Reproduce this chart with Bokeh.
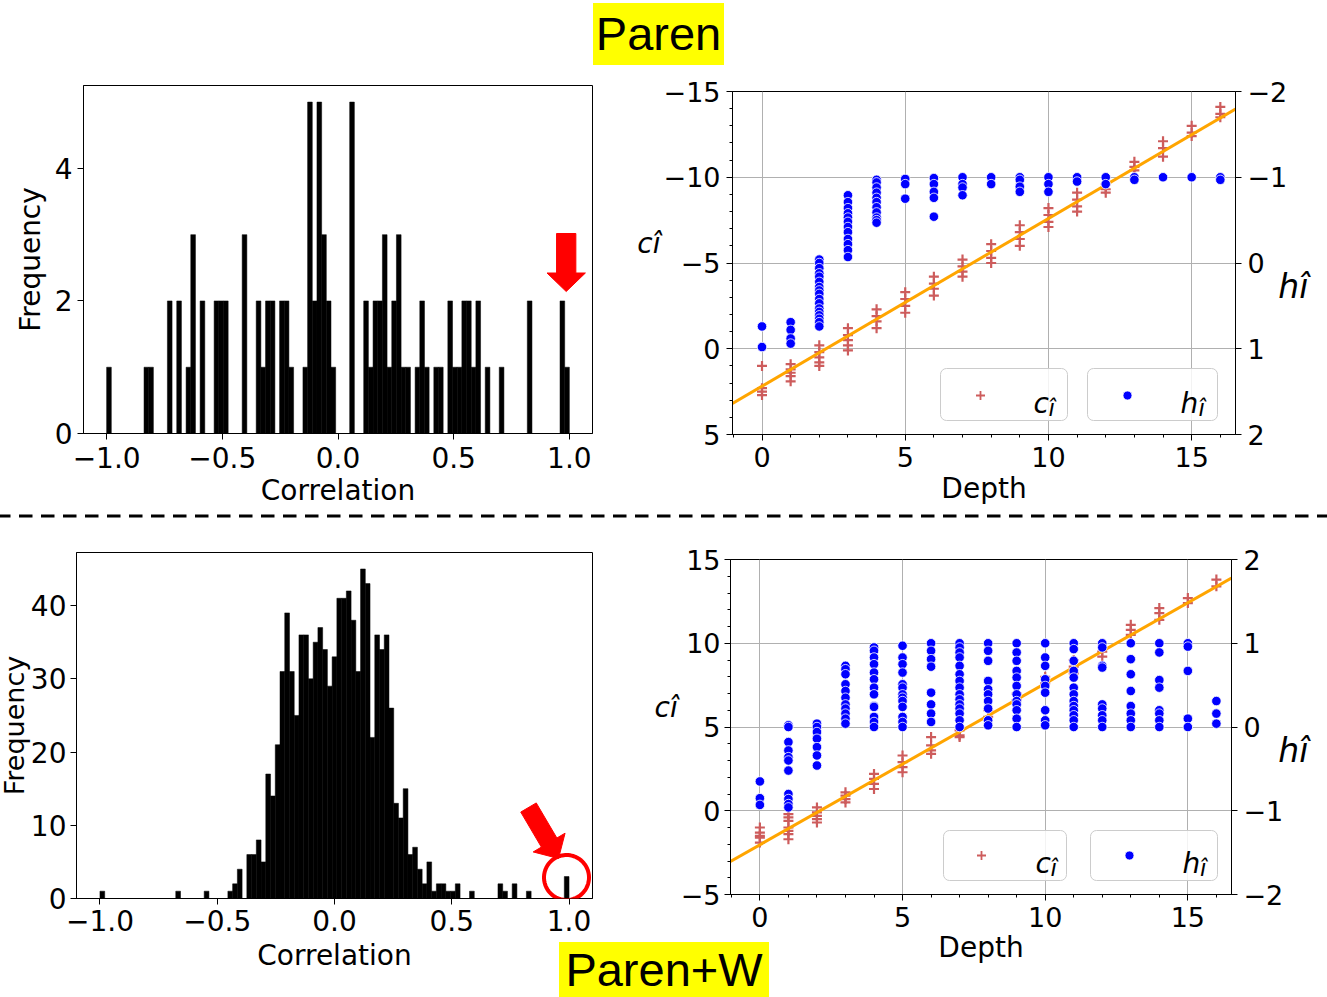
import math
import numpy as np
from bokeh.plotting import figure
from bokeh.models import (Range1d, LinearAxis, FixedTicker, Label, BoxAnnotation,
                          PolyAnnotation, Div, Spacer, CustomJSTickFormatter)
from bokeh.layouts import column, row
from bokeh.embed import file_html
from bokeh.resources import INLINE

# ---------------------------------------------------------------- data
n_bins = 99
bin_range = (-1.0, 1.0)
paren_counts = [1, 0, 0, 0, 0, 0, 0, 0, 1, 1,
                0, 0, 0, 2, 0, 2, 0, 1, 3, 0,
                2, 0, 0, 2, 2, 2, 0, 0, 0, 3,
                0, 0, 2, 1, 2, 2, 0, 2, 2, 1,
                0, 0, 1, 5, 2, 5, 3, 2, 1, 0,
                0, 0, 5, 0, 0, 2, 1, 2, 2, 3,
                1, 2, 3, 1, 1, 0, 1, 2, 1, 0,
                1, 1, 0, 2, 1, 1, 2, 2, 1, 2,
                0, 1, 0, 0, 1, 0, 0, 0, 0, 0,
                2, 0, 0, 0, 0, 0, 0, 2, 1]
parenw_counts = [1, 0, 0, 0, 0, 0, 0, 0, 0, 0,
                 0, 0, 0, 0, 0, 0, 1, 0, 0, 0,
                 0, 0, 1, 0, 0, 0, 0, 1, 2, 4,
                 0, 6, 6, 8, 5, 17, 14, 21, 31, 39,
                 31, 25, 36, 36, 30, 35, 37, 34, 29, 33,
                 41, 41, 42, 38, 31, 45, 43, 22, 36, 34,
                 36, 26, 13, 11, 15, 6, 7, 4, 2, 5,
                 1, 2, 2, 1, 1, 2, 0, 0, 1, 0,
                 0, 0, 0, 0, 2, 1, 0, 2, 0, 0,
                 1, 0, 0, 0, 0, 0, 0, 0, 3]

depths = list(range(17))
paren_c = [
    [1.0, 2.3, 2.5, 2.7],
    [0.9, 1.2, 1.4, 1.6, 1.9],
    [-0.2, 0.2, 0.5, 0.8, 1.0],
    [-1.2, -0.8, -0.5, -0.2, 0.1],
    [-2.3, -1.9, -1.6, -1.2],
    [-3.3, -2.9, -2.5, -2.1],
    [-4.2, -3.8, -3.5, -3.1],
    [-5.2, -4.8, -4.5, -4.2],
    [-6.1, -5.7, -5.3, -5.0],
    [-7.2, -6.8, -6.4, -6.0],
    [-8.2, -7.8, -7.4, -7.1],
    [-9.1, -8.7, -8.3, -8.0],
    [-9.6, -9.3, -9.1],
    [-10.9, -10.6, -10.4],
    [-12.1, -11.7, -11.2],
    [-13.0, -12.6, -12.4],
    [-14.1, -13.7, -13.5],
]
paren_h = [
    [0.74, 0.98],
    [0.69, 0.78, 0.88, 0.94],
    [-0.04, 0.0, 0.06, 0.12, 0.16, 0.22, 0.28, 0.32, 0.36, 0.42, 0.47, 0.53, 0.57, 0.61, 0.65, 0.69, 0.74],
    [-0.79, -0.71, -0.64, -0.58, -0.53, -0.48, -0.42, -0.36, -0.28, -0.22, -0.15, -0.07],
    [-0.97, -0.94, -0.88, -0.82, -0.76, -0.71, -0.65, -0.59, -0.53, -0.50, -0.47],
    [-0.98, -0.92, -0.75],
    [-0.99, -0.92, -0.83, -0.76, -0.54],
    [-1.0, -0.92, -0.88, -0.79],
    [-1.0, -0.92],
    [-1.0, -0.97, -0.89, -0.83],
    [-1.0, -0.92, -0.83],
    [-1.0, -0.95],
    [-1.0, -0.92],
    [-1.0, -0.97],
    [-1.0],
    [-1.0],
    [-1.0, -0.97],
]
parenw_c = [
    [-1.0, -1.3, -1.5, -1.6, -1.9],
    [-0.2, -0.4, -0.6, -1.0, -1.2, -1.4, -1.7],
    [0.2, -0.1, -0.3, -0.5, -0.7],
    [1.1, 0.9, 0.7, 0.5],
    [2.2, 1.9, 1.6, 1.3],
    [3.3, 2.9, 2.6, 2.3],
    [4.4, 3.9, 3.6, 3.4],
    [4.8, 4.5, 4.4],
    [6.0, 5.6],
    [7.0, 6.6],
    [8.0, 7.6],
    [9.0, 8.6, 8.2],
    [9.5, 9.2],
    [11.1, 10.8, 10.5],
    [12.1, 11.8, 11.4],
    [12.7, 12.4],
    [13.8, 13.4],
]
parenw_h = [
    [-0.65, -0.85, -0.93],
    [0.02, 0.0, -0.18, -0.28, -0.36, -0.40, -0.52, -0.80, -0.86, -0.92, -0.96],
    [0.04, 0.0, -0.06, -0.14, -0.24, -0.34, -0.46],
    [0.73, 0.69, 0.63, 0.51, 0.43, 0.35, 0.27, 0.22, 0.16, 0.10, 0.04],
    [0.95, 0.91, 0.83, 0.75, 0.65, 0.57, 0.47, 0.39, 0.25, 0.24, 0.12, 0.06, 0.0],
    [0.97, 0.83, 0.75, 0.65, 0.51, 0.47, 0.39, 0.35, 0.31, 0.24, 0.12, 0.06, 0.0],
    [1.0, 0.91, 0.81, 0.72, 0.41, 0.27, 0.16, 0.06],
    [1.0, 0.95, 0.89, 0.83, 0.73, 0.63, 0.55, 0.47, 0.39, 0.33, 0.27, 0.22, 0.16, 0.08, 0.0],
    [1.0, 0.91, 0.79, 0.55, 0.45, 0.39, 0.31, 0.22, 0.08, 0.02],
    [1.0, 0.89, 0.79, 0.67, 0.59, 0.49, 0.39, 0.31, 0.27, 0.20, 0.10, 0.0],
    [1.0, 0.83, 0.73, 0.57, 0.49, 0.41, 0.20, 0.08, 0.02],
    [1.0, 0.93, 0.79, 0.67, 0.59, 0.47, 0.39, 0.31, 0.25, 0.20, 0.14, 0.08, 0.0],
    [1.0, 0.95, 0.73, 0.71, 0.27, 0.22, 0.14, 0.08, 0.0],
    [1.0, 0.81, 0.63, 0.43, 0.25, 0.16, 0.08, 0.0],
    [1.0, 0.89, 0.56, 0.47, 0.20, 0.16, 0.08, 0.0],
    [1.0, 0.96, 0.67, 0.10, 0.0],
    [0.31, 0.16, 0.04],
]
paren_fit = (-0.977, 2.18)     # slope, intercept of c vs depth
parenw_fit = (0.963, -2.03)

hist_xticks = [-1.0, -0.5, 0.0, 0.5, 1.0]
paren_freq_ticks = [0, 2, 4]
parenw_freq_ticks = [0, 10, 20, 30, 40]
depth_ticks = [0, 5, 10, 15]
paren_c_ticks = [-15, -10, -5, 0, 5]
parenw_c_ticks = [-5, 0, 5, 10, 15]
h_ticks = [-2, -1, 0, 1, 2]

titles = ["Paren", "Paren+W"]
c_name = "c\u00ee"
h_name = "h\u00ee"

# ---------------------------------------------------------------- style
FONT = "DejaVu Sans"
TITLE_FONT = "Liberation Sans"
C_RED = "#cd5c5c"
H_BLUE = "#0000ff"
GRID = "#b0b0b0"

TOP_H, GAP_H, BOT_H = 516, 2, 479
C_SHIFT = 10   # bottom-left canvas starts a little left of the page edge (frame stays put)
SPEC_A = dict(origin=(0, 0), size=(615, TOP_H), left=83, top=85, right=592, bottom=433,
              xr=(-1.1, 1.1), yr=(0, 5.25))
SPEC_B = dict(origin=(615, 0), size=(712, TOP_H), left=732, top=91, right=1235, bottom=434,
              xr=(-1.03, 16.53), yr=(5, -15))
SPEC_C = dict(origin=(-C_SHIFT, TOP_H + GAP_H), size=(615 + C_SHIFT, BOT_H), left=76, top=552,
              right=592, bottom=898, xr=(-1.1, 1.1), yr=(0, 47.25))
SPEC_D = dict(origin=(615, TOP_H + GAP_H), size=(712, BOT_H), left=730, top=559, right=1231,
              bottom=894, xr=(-1.03, 16.53), yr=(-5, 15))


def mapper(spec):
    (x0, x1), (y0, y1) = spec["xr"], spec["yr"]
    L, R, T, B = spec["left"], spec["right"], spec["top"], spec["bottom"]

    def m(sx, sy):
        return (x0 + (sx - L) / (R - L) * (x1 - x0), y0 + (B - sy) / (B - T) * (y1 - y0))
    return m


def fmt(decimals):
    return CustomJSTickFormatter(
        code="const s = Math.abs(tick).toFixed(%d); return (tick < 0 ? '\\u2212' : '') + s;" % decimals)


def make_fig(spec):
    ox, oy = spec["origin"]
    w, h = spec["size"]
    p = figure(width=w, height=h, output_backend="svg", toolbar_location=None,
               x_range=Range1d(*spec["xr"]), y_range=Range1d(*spec["yr"]),
               min_border_left=spec["left"] - ox, min_border_right=ox + w - spec["right"],
               min_border_top=spec["top"] - oy, min_border_bottom=oy + h - spec["bottom"])
    p.frame_align = False
    p.outline_line_color = "black"
    p.outline_line_width = 1
    p.outline_line_alpha = 1
    p.background_fill_color = "white"
    p.border_fill_color = "white"
    p.xgrid.grid_line_color = None
    p.ygrid.grid_line_color = None
    return p


def style_axis(ax, ticks, decimals, size, standoff, minor=None, label=None, label_standoff=2,
               label_size=28, label_style="normal", horizontal=False):
    ax.ticker = FixedTicker(ticks=ticks, minor_ticks=minor or [])
    ax.formatter = fmt(decimals)
    ax.major_label_text_font = FONT
    ax.major_label_text_font_size = "%dpx" % size
    ax.major_label_text_color = "black"
    ax.major_label_standoff = standoff
    ax.major_tick_in = 0
    ax.major_tick_out = 6
    ax.major_tick_line_color = "black"
    ax.major_tick_line_width = 1
    ax.minor_tick_in = 0
    ax.minor_tick_out = 3
    ax.minor_tick_line_color = "black" if minor else None
    ax.axis_line_color = "black"
    if label:
        ax.axis_label = label
        ax.axis_label_text_font = FONT
        ax.axis_label_text_font_size = "%dpx" % label_size
        ax.axis_label_text_font_style = label_style
        ax.axis_label_text_color = "black"
        ax.axis_label_standoff = label_standoff
        if horizontal:
            ax.axis_label_orientation = "horizontal"


def add_text(p, m, sx, sy, text, size, style="italic", align="left"):
    x, y = m(sx, sy)
    p.add_layout(Label(x=x, y=y, text=text, text_font=FONT, text_font_size="%dpx" % size,
                       text_font_style=style, text_align=align, text_baseline="alphabetic",
                       text_color="black"))


def arrow_poly(p, m, tail, tip, shaft_w, head_len, head_w, color="red"):
    (x0, y0), (x1, y1) = tail, tip
    L = math.hypot(x1 - x0, y1 - y0)
    ux, uy = (x1 - x0) / L, (y1 - y0) / L
    nx, ny = -uy, ux
    bx, by = x1 - ux * head_len, y1 - uy * head_len
    pts = [(x0 + nx * shaft_w / 2, y0 + ny * shaft_w / 2),
           (bx + nx * shaft_w / 2, by + ny * shaft_w / 2),
           (bx + nx * head_w / 2, by + ny * head_w / 2),
           (x1, y1),
           (bx - nx * head_w / 2, by - ny * head_w / 2),
           (bx - nx * shaft_w / 2, by - ny * shaft_w / 2),
           (x0 - nx * shaft_w / 2, y0 - ny * shaft_w / 2)]
    dpts = [m(a, b) for a, b in pts]
    p.add_layout(PolyAnnotation(xs=[d[0] for d in dpts], ys=[d[1] for d in dpts],
                                fill_color=color, fill_alpha=1, line_color=color,
                                line_alpha=1, line_width=1))


def ring(p, m, center, rx, ry, width, color="red"):
    cx, cy = center
    t = np.linspace(0, 2 * np.pi, 90)
    dpts = [m(cx + rx * math.cos(a), cy + ry * math.sin(a)) for a in t]
    p.add_layout(PolyAnnotation(xs=[d[0] for d in dpts], ys=[d[1] for d in dpts],
                                fill_alpha=0, line_color=color, line_alpha=1, line_width=width))


def histogram(spec, counts, yticks, y_standoff, x_standoff, xl_standoff, yl_standoff,
              yl_size=28):
    p = make_fig(spec)
    edges = np.linspace(bin_range[0], bin_range[1], n_bins + 1)
    cnt = np.array(counts)
    nz = cnt > 0
    p.quad(left=edges[:-1][nz], right=edges[1:][nz], bottom=0, top=cnt[nz],
           fill_color="black", line_color="black", line_width=0.5)
    style_axis(p.xaxis[0], hist_xticks, 1, 28, x_standoff, label="Correlation",
               label_standoff=xl_standoff)
    style_axis(p.yaxis[0], yticks, 0, 28, y_standoff, label="Frequency",
               label_standoff=yl_standoff, label_size=yl_size)
    return p


def flatten(groups):
    xs, ys = [], []
    for d, vals in zip(depths, groups):
        xs += [d] * len(vals)
        ys += list(vals)
    return xs, ys


def scatter_panel(spec, c_groups, h_groups, fit, cticks, hrange, l_standoff, x_standoff,
                  xl_standoff, cl_standoff, hl_standoff, legend):
    p = make_fig(spec)
    m = mapper(spec)
    p.extra_y_ranges = {"h": Range1d(*hrange)}
    rax = LinearAxis(y_range_name="h")
    p.add_layout(rax, "right")
    minor_x = list(range(-1, 17))
    minor_c = list(range(min(cticks), max(cticks) + 1))
    style_axis(p.xaxis[0], depth_ticks, 0, 27, x_standoff, minor=minor_x, label="Depth",
               label_standoff=xl_standoff)
    style_axis(p.yaxis[0], cticks, 0, 27, l_standoff, minor=minor_c, label=c_name + "\n",
               label_standoff=cl_standoff, label_size=28, label_style="italic",
               horizontal=True)
    style_axis(rax, h_ticks, 0, 27, 6, label="\n" + h_name, label_standoff=hl_standoff,
               label_size=33, label_style="italic", horizontal=True)
    p.xgrid.ticker = FixedTicker(ticks=depth_ticks)
    p.ygrid.ticker = FixedTicker(ticks=cticks)
    for g in (p.xgrid, p.ygrid):
        g.grid_line_color = GRID
        g.grid_line_width = 1

    cx, cy = flatten(c_groups)
    p.scatter(cx, cy, marker="cross", size=10, line_color=C_RED, line_width=2.2)
    slope, icpt = fit
    xl = list(spec["xr"])
    p.line(xl, [slope * v + icpt for v in xl], line_color="orange", line_width=3)
    hx, hy = flatten(h_groups)
    p.scatter(hx, hy, y_range_name="h", marker="circle", size=9.5, fill_color=H_BLUE,
              line_color="white", line_width=0.8)

    # legend boxes (one per series, as in the reference)
    for (x0, y0, x1, y1), (mx, my), marker, (tx, ty), (sx, sy), letter in legend:
        l, t = m(x0, y0)
        r, b = m(x1, y1)
        p.add_layout(BoxAnnotation(left=l, right=r, top=t, bottom=b, fill_color="white",
                                   fill_alpha=0.85, line_color="#cccccc", line_width=1,
                                   line_alpha=1, border_radius=6))
        dx, dy = m(mx, my)
        if marker == "cross":
            p.scatter([dx], [dy], marker="cross", size=9, line_color=C_RED, line_width=1.8,
                      level="overlay")
        else:
            p.scatter([dx], [dy], marker="circle", size=9, fill_color=H_BLUE,
                      line_color="white", line_width=0.8, level="overlay")
        add_text(p, m, tx, ty, letter, 28)
        add_text(p, m, sx, sy, "\u00ee", 23)
    return p


# ---------------------------------------------------------------- panels
pA = histogram(SPEC_A, paren_counts, paren_freq_ticks, 5, 7, 3, 5)
arrow_poly(pA, mapper(SPEC_A), (565.7, 233), (565.7, 291), 19.3, 18.5, 38.4)

pC = histogram(SPEC_C, parenw_counts, parenw_freq_ticks, 4, 5, 5, -2, yl_size=27)
pC.margin = (0, 0, 0, -C_SHIFT)
mC = mapper(SPEC_C)
arrow_poly(pC, mC, (528, 807), (558, 858), 18, 18.5, 37)
ring(pC, mC, (566, 877), 22.5, 22.5, 4)

pB = scatter_panel(
    SPEC_B, paren_c, paren_h, paren_fit, paren_c_ticks, (2, -2), 6, 6, 2, 0, -12,
    [((940, 368, 1067, 420), (980, 395), "cross", (1033, 403), (1048, 407), "c"),
     ((1087, 368, 1217, 420), (1127, 395), "circle", (1180, 403), (1198, 407), "h")])

pD = scatter_panel(
    SPEC_D, parenw_c, parenw_h, parenw_fit, parenw_c_ticks, (-2, 2), 4, 6, 1, 0, -8,
    [((943, 830, 1066, 880), (981, 855), "cross", (1035, 863), (1050, 867), "c"),
     ((1090, 830, 1217, 880), (1129, 855), "circle", (1182, 863), (1199.5, 867), "h")])


# titles (highlighted) and the dashed separator, positioned over the page
def title_html(text, left, top, width, height, text_top):
    return ('<div style="position:fixed;z-index:1000;left:%dpx;top:%dpx;width:%dpx;'
            'height:%dpx;background:#ffff00;"></div>'
            '<div style="position:fixed;z-index:1001;left:%dpx;top:%dpx;width:%dpx;'
            'height:47px;line-height:47px;text-align:center;font-family:\'%s\';'
            'font-size:47px;color:#000;white-space:nowrap;">%s</div>'
            % (left, top, width, height, left, text_top, width, TITLE_FONT, text))


separator_html = ('<svg style="position:fixed;z-index:999;left:0;top:512px;" width="1327" '
                  'height="8"><line x1="0" y1="4" x2="1327" y2="4" stroke="#000000" '
                  'stroke-width="2.8" stroke-dasharray="13.5 8.5" stroke-dashoffset="3"/></svg>')

overlay = Div(text=title_html(titles[0], 593, 3, 131, 62, 10) +
              title_html(titles[1], 559, 942, 210, 55, 946) + separator_html,
              width=0, height=0, margin=0)

layout = column(row(pA, pB), row(Spacer(width=1327, height=GAP_H), overlay), row(pC, pD))
open("out.html", "w").write(file_html(layout, INLINE))
